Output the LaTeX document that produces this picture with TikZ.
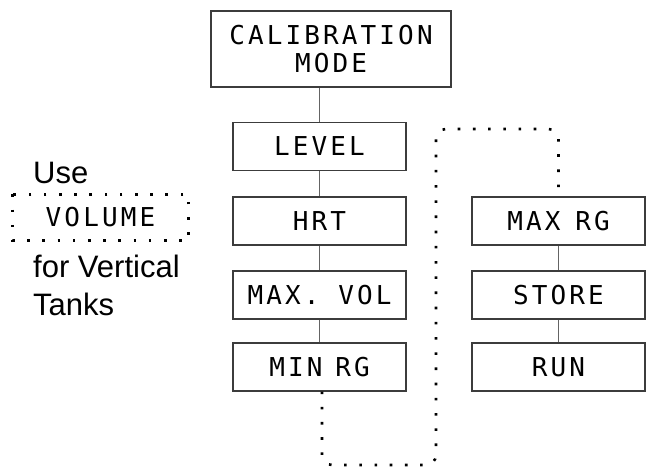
\documentclass[tikz,border=0pt]{standalone}
\usepackage{fontspec}
\setmainfont{Liberation Sans}
\newfontfamily\lcdfont[LetterSpace=12]{DejaVu Sans Mono}
\usetikzlibrary{positioning}
\definecolor{boxline}{RGB}{60,60,60}
\definecolor{lnkgray}{RGB}{100,100,100}
\tikzset{
  blk/.style={draw=boxline, line width=1.1pt, minimum width=173pt, minimum height=48pt,
              inner sep=0pt, align=center, font=\fontsize{26}{28}\selectfont\lcdfont},
  lnk/.style={lnkgray, line width=1.1pt},
  dotp/.style={black, line width=2.6pt, dash pattern=on 2.6pt off 12.6pt, rounded corners=10pt},
  note/.style={anchor=base west, inner sep=0pt, font=\fontsize{31}{33}\selectfont},
}

\begin{document}
\begin{tikzpicture}[x=1pt, y=1pt]
  \useasboundingbox (0,0) rectangle (647,467);
  % left column
  \node[blk, minimum width=240pt, minimum height=76pt] (calib) at (331,418)
    {CALIBRATION\\[0pt]MODE};
  \node[blk] (level) at (319.5,320.5) {LEVEL};
  \node[blk] (hrt) at (319.5,246) {HRT};
  \node[blk] (maxvol) at (319.5,172) {MAX. VOL};
  \node[blk] (minrg) at (319.5,100) {MIN\hspace{-6pt} RG};
  % right column
  \node[blk] (maxrg) at (558.5,246) {MAX\hspace{-4pt} RG};
  \node[blk] (store) at (558.5,172) {STORE};
  \node[blk] (run) at (558.5,100) {RUN};
  % side note
  \node[note] (use) at (33,284) {Use};
  \node[blk, draw=none, minimum width=175pt, minimum height=45pt] (vol) at (100.5,249.5) {VOLUME};
  \node[note] (forv) at (33,190) {for Vertical};
  \node[note] (tanks) at (33,152) {Tanks};
  \draw[dotp, rounded corners=0pt] (vol.north west) rectangle (vol.south east);

  \draw[lnk] (level.north) -- (level.north |- calib.south);
  \draw[lnk] (level) -- (hrt);
  \draw[lnk] (hrt) -- (maxvol);
  \draw[lnk] (maxvol) -- (minrg);
  \draw[lnk] (maxrg) -- (store);
  \draw[lnk] (store) -- (run);

  \coordinate (bl) at (322,2);
  \coordinate (tr) at (558.5,338);
  \draw[dotp] ([xshift=2.5pt]minrg.south) -- (bl) -- (436,2) -- (436,338) -- (tr) -- (maxrg.north);
\end{tikzpicture}
\end{document}
